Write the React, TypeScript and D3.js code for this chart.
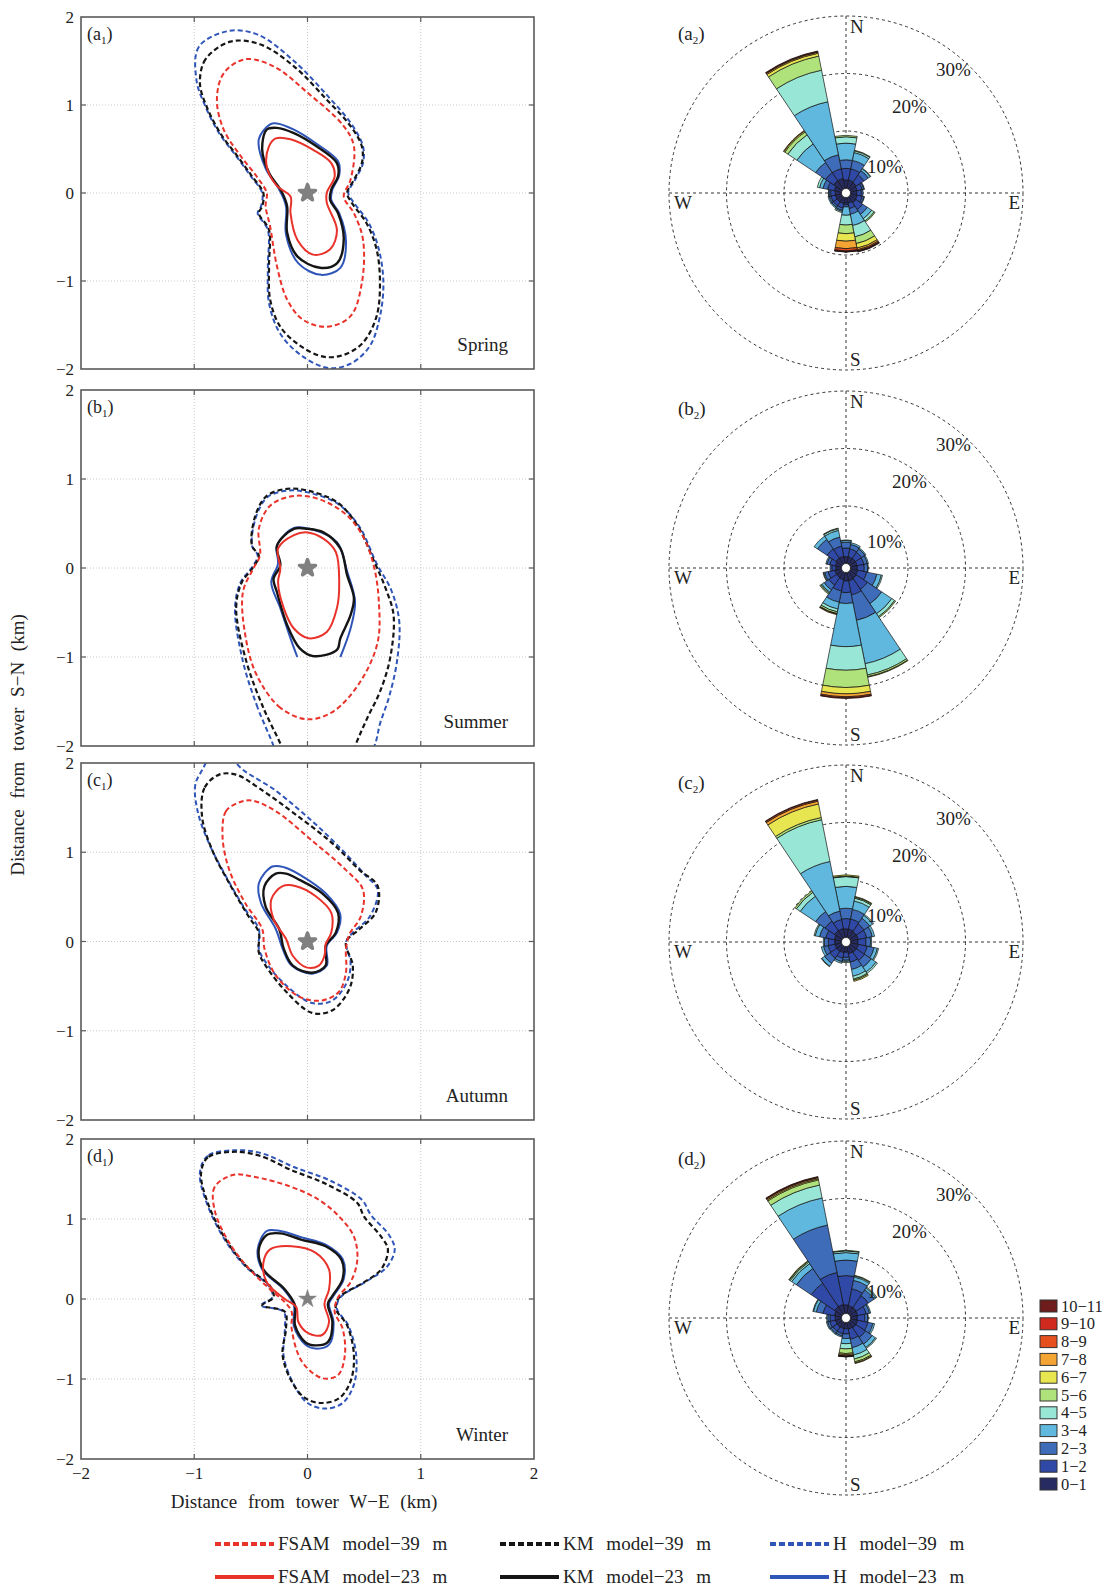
import React from 'react';
import * as d3 from 'd3';

// ---------------- DATA ----------------
const kmTicks = [-2, -1, 0, 1, 2];
const seasons = ['Spring', 'Summer', 'Autumn', 'Winter'];
const panelLetters = ['a', 'b', 'c', 'd'];

const speedClasses = ['0−1', '1−2', '2−3', '3−4', '4−5', '5−6', '6−7', '7−8', '8−9', '9−10', '10−11'];
const speedColors = ['#262b62', '#3048a6', '#3e6cb8', '#60b8de', '#98e6d6', '#b0e27c', '#e8e650', '#f4a433', '#e5501e', '#d02a1e', '#6e1c1c'];
const directions = ['N', 'NNE', 'NE', 'ENE', 'E', 'ESE', 'SE', 'SSE', 'S', 'SSW', 'SW', 'WSW', 'W', 'WNW', 'NW', 'NNW'];
const ringLevels = [10, 20, 30];

// frequency (%) per direction (rows) and speed class (columns)
const springRose = [
  [1.5, 2.0, 1.5, 2.9, 1.1, 0.25],
  [1.5, 2.0, 1.5, 1.4, 0.3, 0.1],
  [1.4, 1.6, 0.9, 0.4, 0.1],
  [1.2, 0.9, 0.3, 0.1],
  [1.1, 0.8, 0.3],
  [1.2, 0.9, 0.3, 0.1],
  [1.3, 1.4, 1.0, 0.9, 0.5, 0.2],
  [1.0, 1.0, 1.0, 2.0, 2.0, 1.2, 0.8, 0.3, 0.2, 0.1, 0.1],
  [1.0, 0.3, 0.35, 1.45, 1.7, 1.5, 1.3, 1.3, 0.4, 0.15, 0.05],
  [1.1, 0.8, 0.4, 0.2, 0.2],
  [1.1, 0.8, 0.3, 0.2],
  [1.1, 0.8, 0.3, 0.2],
  [1.1, 0.8, 0.3, 0.1],
  [1.3, 1.2, 0.8, 0.6, 0.4],
  [1.8, 1.7, 2.1, 3.9, 1.9, 0.6, 0.2, 0.1],
  [1.8, 1.7, 2.5, 9.4, 5.6, 2.5, 0.5, 0.2, 0.1, 0.1],
];
const summerRose = [
  [1.2, 1.5, 1.0, 0.3, 0.1],
  [1.2, 1.4, 0.8, 0.3],
  [1.2, 1.3, 0.7, 0.2],
  [1.2, 1.2, 0.6, 0.2],
  [1.2, 1.2, 0.6, 0.1],
  [1.3, 1.6, 1.8, 0.8, 0.2],
  [1.4, 2.3, 3.0, 2.1, 0.6, 0.2],
  [1.5, 2.5, 4.5, 7.7, 2.0, 0.3, 0.1],
  [1.5, 2.0, 1.9, 7.5, 4.1, 3.0, 1.1, 0.5, 0.2, 0.1],
  [1.3, 2.0, 2.0, 1.2, 0.5, 0.3, 0.1, 0.1],
  [1.2, 1.6, 1.0, 0.5, 0.2, 0.2],
  [1.2, 1.2, 0.6, 0.2, 0.1],
  [1.0, 0.7, 0.3],
  [1.1, 1.0, 0.5, 0.2],
  [1.3, 1.9, 2.0, 0.7],
  [1.3, 1.8, 1.6, 1.2, 0.3, 0.1],
];
const autumnRose = [
  [1.5, 1.8, 1.8, 3.8, 1.7, 0.1, 0.2],
  [1.5, 1.8, 1.7, 1.5, 0.5, 0.2, 0.1],
  [1.4, 1.6, 1.2, 0.6, 0.2],
  [1.4, 1.5, 1.0, 0.4],
  [1.3, 1.4, 0.8, 0.2],
  [1.4, 1.6, 1.2, 0.6, 0.2],
  [1.4, 1.7, 1.4, 1.0, 0.3],
  [1.3, 1.5, 1.3, 1.2, 0.5, 0.2, 0.2],
  [1.0, 0.9, 0.5, 0.2, 0.2],
  [1.1, 1.0, 0.6, 0.3],
  [1.2, 1.4, 1.1, 0.6, 0.1],
  [1.2, 1.2, 0.8, 0.4],
  [1.2, 1.1, 0.7, 0.2],
  [1.3, 1.5, 1.1, 0.8, 0.2],
  [1.6, 2.0, 2.0, 3.2, 0.8, 0.3],
  [1.6, 1.6, 1.5, 8.8, 7.4, 0.4, 2.4, 0.5, 0.2, 0.1],
];
const winterRose = [
  [1.5, 5.1, 2.7, 1.3, 0.3, 0.1],
  [1.4, 3.0, 1.5, 0.6, 0.2, 0.1],
  [1.4, 2.5, 1.2, 0.4, 0.2],
  [1.3, 1.5, 0.6, 0.2],
  [1.2, 1.3, 0.5, 0.1],
  [1.3, 1.8, 0.9, 0.3],
  [1.3, 2.0, 1.4, 0.7, 0.2],
  [1.2, 1.8, 1.5, 1.3, 0.7, 0.5, 0.2, 0.1],
  [1.1, 0.9, 0.8, 0.9, 0.9, 0.8, 0.2, 0.2, 0.1, 0.05, 0.05],
  [1.1, 0.9, 0.4, 0.2],
  [1.1, 0.9, 0.4, 0.2],
  [1.1, 1.0, 0.4, 0.2],
  [1.1, 0.9, 0.4, 0.2],
  [1.3, 2.0, 1.2, 0.5, 0.1],
  [1.6, 4.9, 3.1, 1.0, 0.3, 0.2, 0.1],
  [1.6, 5.7, 8.4, 4.8, 2.3, 0.9, 0.2, 0.2, 0.1, 0.1],
];

// footprint contours, [W-E km, S-N km]
const springFsam39 = [[-0.55,1.52],[-0.74,1.36],[-0.80,1.06],[-0.74,0.72],[-0.59,0.42],[-0.45,0.19],[-0.36,0.0],[-0.37,-0.15],[-0.33,-0.38],[-0.27,-0.83],[-0.18,-1.21],[-0.04,-1.44],[0.17,-1.52],[0.38,-1.40],[0.48,-1.02],[0.49,-0.53],[0.41,-0.23],[0.32,-0.04],[0.38,0.15],[0.41,0.53],[0.32,0.76],[0.0,1.14],[-0.30,1.44]];
const springFsam23 = [[-0.34,0.53],[-0.36,0.30],[-0.27,0.08],[-0.15,-0.04],[-0.15,-0.23],[-0.09,-0.53],[0.05,-0.70],[0.20,-0.64],[0.26,-0.42],[0.17,-0.11],[0.17,0.0],[0.24,0.19],[0.21,0.34],[0.05,0.49],[-0.15,0.61],[-0.28,0.62]];
const springKm39 = [[-0.68,1.72],[-0.90,1.52],[-0.95,1.25],[-0.89,0.98],[-0.77,0.68],[-0.62,0.42],[-0.49,0.19],[-0.39,0.0],[-0.40,-0.15],[-0.43,-0.23],[-0.34,-0.42],[-0.34,-0.83],[-0.33,-1.21],[-0.24,-1.52],[-0.06,-1.74],[0.14,-1.86],[0.32,-1.84],[0.49,-1.70],[0.61,-1.40],[0.64,-1.02],[0.61,-0.64],[0.52,-0.34],[0.39,-0.11],[0.35,0.0],[0.41,0.15],[0.48,0.34],[0.48,0.53],[0.38,0.76],[0.17,1.06],[-0.12,1.44],[-0.42,1.69]];
const springKm23 = [[-0.36,0.72],[-0.40,0.49],[-0.34,0.23],[-0.23,0.02],[-0.18,-0.15],[-0.18,-0.45],[-0.09,-0.72],[0.11,-0.85],[0.26,-0.80],[0.32,-0.53],[0.27,-0.23],[0.20,-0.08],[0.21,0.04],[0.27,0.19],[0.26,0.34],[0.08,0.53],[-0.12,0.68],[-0.27,0.74]];
const springH39 = [[-0.70,1.84],[-0.96,1.66],[-0.98,1.28],[-0.90,0.98],[-0.78,0.68],[-0.63,0.42],[-0.50,0.19],[-0.40,0.0],[-0.41,-0.15],[-0.44,-0.23],[-0.35,-0.42],[-0.35,-0.83],[-0.34,-1.25],[-0.24,-1.60],[-0.04,-1.86],[0.19,-1.99],[0.38,-1.94],[0.55,-1.74],[0.64,-1.40],[0.67,-1.02],[0.63,-0.64],[0.54,-0.34],[0.41,-0.11],[0.36,0.0],[0.42,0.15],[0.49,0.34],[0.49,0.53],[0.39,0.78],[0.18,1.10],[-0.12,1.50],[-0.44,1.80]];
const springH23 = [[-0.33,0.78],[-0.43,0.61],[-0.37,0.28],[-0.25,0.04],[-0.19,-0.15],[-0.19,-0.47],[-0.08,-0.80],[0.12,-0.93],[0.29,-0.85],[0.34,-0.55],[0.28,-0.23],[0.21,-0.08],[0.22,0.04],[0.28,0.20],[0.27,0.36],[0.08,0.56],[-0.12,0.72],[-0.27,0.79]];

const summerFsam39 = [[0.0,-1.70],[-0.24,-1.57],[-0.45,-1.20],[-0.55,-0.75],[-0.57,-0.27],[-0.48,-0.01],[-0.42,0.14],[-0.43,0.44],[-0.33,0.70],[-0.12,0.81],[0.11,0.77],[0.35,0.59],[0.50,0.33],[0.59,0.0],[0.63,-0.38],[0.62,-0.83],[0.47,-1.27],[0.23,-1.61]];
const summerFsam23 = [[0.0,0.40],[-0.12,0.37],[-0.26,0.22],[-0.24,-0.01],[-0.26,-0.16],[-0.21,-0.45],[-0.12,-0.68],[0.01,-0.79],[0.17,-0.72],[0.26,-0.45],[0.28,-0.16],[0.25,0.18],[0.14,0.33]];
const summerKm39 = [[-0.23,-2.0],[-0.39,-1.57],[-0.54,-1.05],[-0.63,-0.45],[-0.58,-0.16],[-0.49,-0.01],[-0.43,0.14],[-0.49,0.25],[-0.46,0.59],[-0.36,0.81],[-0.18,0.89],[0.0,0.87],[0.26,0.74],[0.44,0.48],[0.59,0.07],[0.69,-0.23],[0.76,-0.53],[0.73,-1.01],[0.64,-1.39],[0.53,-1.68],[0.42,-2.0],[0.3,-2.4],[-0.1,-2.4]];
const summerKm23 = [[0.0,0.44],[-0.12,0.44],[-0.27,0.25],[-0.24,0.03],[-0.30,-0.12],[-0.27,-0.27],[-0.18,-0.64],[-0.07,-0.90],[0.05,-0.99],[0.26,-0.92],[0.29,-0.79],[0.38,-0.53],[0.41,-0.34],[0.35,-0.08],[0.29,0.22],[0.14,0.40]];
const summerH39 = [[-0.30,-2.0],[-0.44,-1.57],[-0.57,-1.05],[-0.64,-0.45],[-0.59,-0.16],[-0.50,-0.01],[-0.44,0.14],[-0.49,0.25],[-0.45,0.59],[-0.35,0.80],[-0.17,0.87],[0.0,0.85],[0.27,0.72],[0.46,0.46],[0.61,0.05],[0.74,-0.25],[0.81,-0.60],[0.79,-1.05],[0.72,-1.45],[0.64,-1.75],[0.59,-2.0],[0.4,-2.4],[-0.2,-2.4]];
const summerH23 = [[-0.09,-1.0],[-0.15,-0.79],[-0.24,-0.45],[-0.32,-0.16],[-0.26,0.05],[-0.27,0.25],[-0.12,0.45],[0.02,0.44],[0.26,0.29],[0.35,-0.04],[0.42,-0.38],[0.38,-0.68],[0.29,-1.0]];

const autumnFsam39 = [[-0.60,1.56],[-0.72,1.46],[-0.75,1.17],[-0.69,0.80],[-0.55,0.43],[-0.40,0.14],[-0.38,-0.08],[-0.28,-0.38],[-0.07,-0.62],[0.13,-0.66],[0.28,-0.56],[0.34,-0.34],[0.34,-0.08],[0.37,0.08],[0.47,0.28],[0.49,0.58],[0.34,0.80],[0.04,1.13],[-0.28,1.46],[-0.49,1.58]];
const autumnFsam23 = [[-0.22,0.62],[-0.32,0.47],[-0.30,0.25],[-0.19,0.03],[-0.13,-0.16],[-0.01,-0.29],[0.10,-0.27],[0.15,-0.16],[0.16,-0.03],[0.21,0.10],[0.21,0.32],[0.07,0.51],[-0.10,0.62]];
const autumnKm39 = [[-0.78,1.87],[-0.91,1.72],[-0.93,1.39],[-0.84,1.02],[-0.69,0.65],[-0.52,0.28],[-0.43,0.10],[-0.43,-0.12],[-0.37,-0.27],[-0.19,-0.56],[0.04,-0.80],[0.22,-0.77],[0.37,-0.53],[0.40,-0.27],[0.34,-0.01],[0.46,0.14],[0.60,0.32],[0.62,0.62],[0.46,0.80],[0.22,1.10],[-0.07,1.39],[-0.43,1.72],[-0.63,1.87]];
const autumnKm23 = [[-0.28,0.76],[-0.38,0.62],[-0.37,0.39],[-0.25,0.14],[-0.21,-0.08],[-0.13,-0.27],[0.04,-0.35],[0.16,-0.27],[0.16,-0.05],[0.25,0.10],[0.27,0.32],[0.13,0.54],[-0.07,0.69],[-0.19,0.76]];
const autumnH39 = [[-0.90,2.0],[-0.99,1.76],[-0.97,1.46],[-0.87,1.10],[-0.72,0.73],[-0.55,0.36],[-0.43,0.14],[-0.43,-0.08],[-0.37,-0.23],[-0.19,-0.49],[0.04,-0.69],[0.22,-0.66],[0.35,-0.45],[0.38,-0.23],[0.34,-0.01],[0.40,0.10],[0.55,0.28],[0.62,0.58],[0.52,0.73],[0.31,1.02],[0.04,1.35],[-0.28,1.69],[-0.63,2.0],[-0.7,2.3],[-0.85,2.3]];
const autumnH23 = [[-0.31,0.84],[-0.43,0.65],[-0.41,0.43],[-0.28,0.14],[-0.22,-0.08],[-0.14,-0.27],[0.04,-0.36],[0.17,-0.27],[0.17,-0.05],[0.26,0.10],[0.29,0.30],[0.16,0.54],[-0.07,0.75],[-0.20,0.83]];

const winterFsam39 = [[-0.66,1.55],[-0.82,1.40],[-0.82,1.11],[-0.69,0.70],[-0.51,0.37],[-0.33,0.12],[-0.20,-0.04],[-0.14,-0.16],[-0.14,-0.37],[-0.05,-0.78],[0.13,-0.99],[0.27,-0.95],[0.33,-0.70],[0.31,-0.37],[0.24,-0.16],[0.27,0.02],[0.38,0.21],[0.44,0.49],[0.41,0.78],[0.28,1.03],[0.10,1.24],[-0.14,1.40],[-0.48,1.53]];
const winterFsam23 = [[-0.33,0.62],[-0.39,0.45],[-0.36,0.21],[-0.20,0.0],[-0.10,-0.10],[-0.08,-0.29],[0.01,-0.43],[0.13,-0.45],[0.19,-0.29],[0.15,-0.06],[0.19,0.12],[0.19,0.37],[0.07,0.58],[-0.14,0.66]];
const winterKm39 = [[-0.66,1.84],[-0.88,1.77],[-0.94,1.57],[-0.88,1.20],[-0.72,0.74],[-0.54,0.41],[-0.33,0.16],[-0.30,0.02],[-0.40,-0.08],[-0.20,-0.16],[-0.19,-0.37],[-0.22,-0.70],[-0.14,-1.03],[-0.02,-1.24],[0.13,-1.30],[0.28,-1.24],[0.38,-1.03],[0.41,-0.70],[0.35,-0.33],[0.25,-0.12],[0.28,0.02],[0.50,0.21],[0.65,0.37],[0.71,0.62],[0.65,0.78],[0.50,1.03],[0.44,1.20],[0.16,1.44],[-0.14,1.61],[-0.42,1.79]];
const winterKm23 = [[-0.36,0.80],[-0.43,0.62],[-0.39,0.37],[-0.20,0.12],[-0.11,-0.08],[-0.11,-0.33],[-0.02,-0.54],[0.07,-0.58],[0.18,-0.54],[0.22,-0.29],[0.18,-0.06],[0.22,0.04],[0.31,0.25],[0.30,0.49],[0.16,0.66],[-0.05,0.74],[-0.24,0.82]];
const winterH39 = [[-0.63,1.86],[-0.88,1.79],[-0.95,1.58],[-0.89,1.20],[-0.73,0.74],[-0.55,0.41],[-0.34,0.16],[-0.31,0.02],[-0.41,-0.08],[-0.21,-0.16],[-0.20,-0.37],[-0.21,-0.72],[-0.12,-1.07],[0.0,-1.30],[0.16,-1.37],[0.31,-1.30],[0.41,-1.07],[0.43,-0.70],[0.36,-0.33],[0.26,-0.12],[0.29,0.02],[0.52,0.22],[0.70,0.40],[0.77,0.62],[0.72,0.80],[0.56,1.05],[0.48,1.24],[0.20,1.48],[-0.12,1.65],[-0.40,1.82]];
const winterH23 = [[-0.36,0.85],[-0.44,0.62],[-0.40,0.37],[-0.21,0.12],[-0.12,-0.08],[-0.12,-0.34],[-0.02,-0.57],[0.07,-0.62],[0.19,-0.57],[0.23,-0.29],[0.19,-0.06],[0.23,0.04],[0.32,0.25],[0.31,0.50],[0.16,0.68],[-0.05,0.77],[-0.24,0.85]];

const seriesNames = ['H model−39 m', 'H model−23 m', 'KM model−39 m', 'KM model−23 m', 'FSAM model−39 m', 'FSAM model−23 m'];
const legendOrder = [['FSAM model−39 m', 'KM model−39 m', 'H model−39 m'], ['FSAM model−23 m', 'KM model−23 m', 'H model−23 m']];

// ---------------- STYLE / LAYOUT ----------------
const FONT = '"Liberation Serif", "DejaVu Serif", "Times New Roman", serif';
const styles: Record<string, { color: string; dash: string; width: number }> = {
  'FSAM model−39 m': { color: '#e8322a', dash: '5,3', width: 2 },
  'FSAM model−23 m': { color: '#e8322a', dash: '', width: 2 },
  'KM model−39 m': { color: '#151515', dash: '5,3', width: 2.2 },
  'KM model−23 m': { color: '#151515', dash: '', width: 2.4 },
  'H model−39 m': { color: '#2f55b8', dash: '5,3', width: 2 },
  'H model−23 m': { color: '#2f55b8', dash: '', width: 2 },
};

const contourSets = [
  [springH39, springH23, springKm39, springKm23, springFsam39, springFsam23],
  [summerH39, summerH23, summerKm39, summerKm23, summerFsam39, summerFsam23],
  [autumnH39, autumnH23, autumnKm39, autumnKm23, autumnFsam39, autumnFsam23],
  [winterH39, winterH23, winterKm39, winterKm23, winterFsam39, winterFsam23],
];
const roses = [springRose, summerRose, autumnRose, winterRose];

const leftX0 = 81, leftX1 = 534;
const panelTB = [[17, 369], [390, 746], [763, 1120], [1139, 1459]];
const roseCx = 846;
const roseCy = [193, 568, 942, 1318];

function FootprintPanel({ idx }: { idx: number }) {
  const [top, bottom] = panelTB[idx];
  const x = d3.scaleLinear().domain([-2, 2]).range([leftX0, leftX1]);
  const y = d3.scaleLinear().domain([-2, 2]).range([bottom, top]);
  const closed = d3.line<number[]>().x(d => x(d[0])).y(d => y(d[1])).curve(d3.curveCatmullRomClosed.alpha(0.5));
  const open = d3.line<number[]>().x(d => x(d[0])).y(d => y(d[1])).curve(d3.curveCatmullRom.alpha(0.5));
  const clipId = `clip-${idx}`;
  const sets = contourSets[idx];
  const star = d3.symbol(d3.symbolStar, idx === 3 ? 100 : 80)();
  const inner = [-1, 0, 1];
  return (
    <g>
      <defs>
        <clipPath id={clipId}>
          <rect x={leftX0} y={top} width={leftX1 - leftX0} height={bottom - top} />
        </clipPath>
      </defs>
      <rect x={leftX0} y={top} width={leftX1 - leftX0} height={bottom - top} fill="#fff" />
      {inner.map(v => (
        <g key={'g' + v}>
          <line x1={x(v)} x2={x(v)} y1={top} y2={bottom} stroke="#c8c8c8" strokeDasharray="1,2" strokeWidth={1} />
          <line x1={leftX0} x2={leftX1} y1={y(v)} y2={y(v)} stroke="#c8c8c8" strokeDasharray="1,2" strokeWidth={1} />
        </g>
      ))}
      <g clipPath={`url(#${clipId})`}>
        {sets.map((pts, i) => {
          const st = styles[seriesNames[i]];
          const isOpen = idx === 1 && i === 1;
          return (
            <path key={i} d={(isOpen ? open : closed)(pts) || ''} fill="none" stroke={st.color}
              strokeWidth={st.width} strokeDasharray={st.dash || undefined} strokeLinejoin="round" />
          );
        })}
        <path d={star || ''} transform={`translate(${x(0)},${y(0)})`} fill="#808080"
          stroke="#808080" strokeWidth={idx === 3 ? 0.5 : 3.5} strokeLinejoin="round" />
      </g>
      <rect x={leftX0} y={top} width={leftX1 - leftX0} height={bottom - top} fill="none" stroke="#5a5a5a" strokeWidth={1.6} />
      {inner.map(v => (
        <g key={'t' + v} stroke="#5a5a5a" strokeWidth={1.2}>
          <line x1={x(v)} x2={x(v)} y1={bottom} y2={bottom - 5} />
          <line x1={x(v)} x2={x(v)} y1={top} y2={top + 5} />
          <line x1={leftX0} x2={leftX0 + 5} y1={y(v)} y2={y(v)} />
          <line x1={leftX1} x2={leftX1 - 5} y1={y(v)} y2={y(v)} />
        </g>
      ))}
      {kmTicks.map(v => (
        <text key={'yl' + v} x={leftX0 - 7} y={y(v) + 6} textAnchor="end" fontSize={17} fontFamily={FONT} fill="#222">
          {v < 0 ? `−${-v}` : `${v}`}
        </text>
      ))}
      {idx === 3 && kmTicks.map(v => (
        <text key={'xl' + v} x={x(v)} y={bottom + 20} textAnchor="middle" fontSize={17} fontFamily={FONT} fill="#222">
          {v < 0 ? `−${-v}` : `${v}`}
        </text>
      ))}
      <text x={leftX0 + 6} y={top + 23} fontSize={18} fontFamily={FONT} fill="#222">
        ({panelLetters[idx]}<tspan dy={4} fontSize={11}>1</tspan><tspan dy={-4}>)</tspan>
      </text>
      <text x={leftX1 - 26} y={bottom - 18} textAnchor="end" fontSize={19} fontFamily={FONT} fill="#222">
        {seasons[idx]}
      </text>
    </g>
  );
}

function WindRose({ idx }: { idx: number }) {
  const cx = roseCx, cy = roseCy[idx];
  const r = d3.scaleLinear().domain([0, 30]).range([4.5, 177]);
  const step = (2 * Math.PI) / directions.length;
  const arc = d3.arc();
  const data = roses[idx];
  const wedges: { d: string; color: string; key: string }[] = [];
  data.forEach((row, di) => {
    let cum = 0;
    speedClasses.forEach((_, si) => {
      const v = row[si] || 0;
      if (v <= 0) return;
      const a0 = di * step - step / 2;
      const d = arc({ innerRadius: r(cum), outerRadius: r(cum + v), startAngle: a0, endAngle: a0 + step } as any) || '';
      wedges.push({ d, color: speedColors[si], key: `${di}-${si}` });
      cum += v;
    });
  });
  const R = r(30);
  return (
    <g transform={`translate(${cx},${cy})`}>
      {ringLevels.map(l => (
        <circle key={l} r={r(l)} fill="none" stroke="#333" strokeWidth={1} strokeDasharray="3,3" />
      ))}
      <line x1={-R} x2={R} y1={0} y2={0} stroke="#333" strokeWidth={1} strokeDasharray="3,3" />
      <line x1={0} x2={0} y1={-R} y2={R} stroke="#333" strokeWidth={1} strokeDasharray="3,3" />
      {wedges.map(w => (
        <path key={w.key} d={w.d} fill={w.color} stroke="#111" strokeWidth={0.7} />
      ))}
      <circle r={r(0)} fill="#fff" stroke="#111" strokeWidth={0.7} />
      <g fontFamily={FONT} fontSize={19} fill="#222">
        <text x={4} y={-160}>N</text>
        <text x={4} y={173}>S</text>
        <text x={-172} y={16}>W</text>
        <text x={174} y={16} textAnchor="end">E</text>
        <text x={90} y={-117}>30%</text>
        <text x={46} y={-80}>20%</text>
        <text x={21} y={-20}>10%</text>
        <text x={-168} y={-153}>
          ({panelLetters[idx]}<tspan dy={4} fontSize={11}>2</tspan><tspan dy={-4}>)</tspan>
        </text>
      </g>
    </g>
  );
}

export default function App() {
  const legendX = [215, 500, 770];
  const legendY = [1544, 1577];
  const speedY = d3.scaleLinear().domain([speedClasses.length - 1, 0]).range([1306, 1484]);
  return (
    <svg width={1115} height={1590} style={{ position: 'absolute', left: 0, top: 0, background: '#fff' }}
      xmlns="http://www.w3.org/2000/svg">
      <rect width={1115} height={1590} fill="#fff" />
      {[0, 1, 2, 3].map(i => <FootprintPanel key={'p' + i} idx={i} />)}
      {[0, 1, 2, 3].map(i => <WindRose key={'r' + i} idx={i} />)}
      <text transform="translate(24,745) rotate(-90)" textAnchor="middle" fontSize={19} fontFamily={FONT} fill="#222" wordSpacing={6}>
        Distance from tower S−N (km)
      </text>
      <text x={304} y={1508} textAnchor="middle" fontSize={19} fontFamily={FONT} fill="#222" wordSpacing={6}>
        Distance from tower W−E (km)
      </text>
      {legendOrder.map((row, ri) => row.map((name, ci) => {
        const st = styles[name];
        return (
          <g key={name}>
            <line x1={legendX[ci]} x2={legendX[ci] + 59} y1={legendY[ri]} y2={legendY[ri]} stroke={st.color}
              strokeWidth={4} strokeDasharray={st.dash ? '6,3' : undefined} />
            <text x={legendX[ci] + 63} y={legendY[ri] + 6} fontSize={19} fontFamily={FONT} fill="#222" wordSpacing={8}>
              {name}
            </text>
          </g>
        );
      }))}
      {speedClasses.map((c, i) => (
        <g key={c}>
          <rect x={1040} y={speedY(i) - 6} width={17} height={12} fill={speedColors[i]} stroke="#333" strokeWidth={1} />
          <text x={1061} y={speedY(i) + 5.5} fontSize={16.5} fontFamily={FONT} fill="#222">{c}</text>
        </g>
      ))}
    </svg>
  );
}
